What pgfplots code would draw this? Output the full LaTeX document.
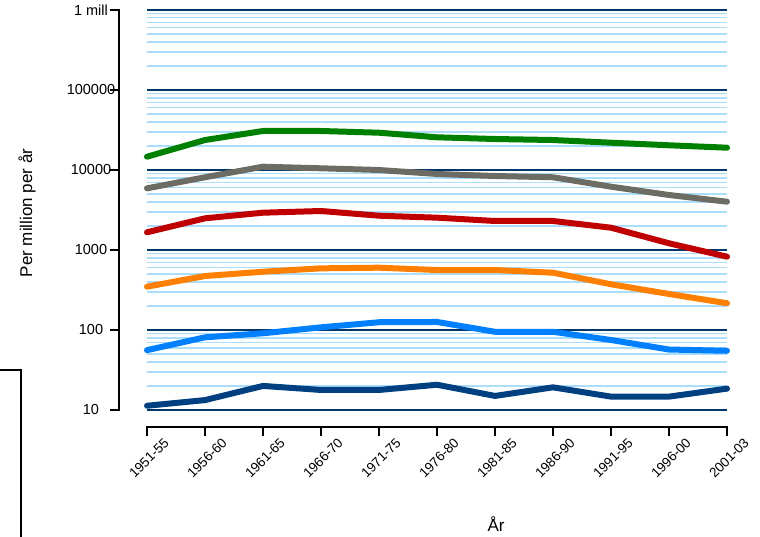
\documentclass[border=0pt]{standalone}
\usepackage{pgfplots}
\pgfplotsset{compat=1.18}
\usepackage{fontspec}
\setmainfont{Liberation Sans}
\definecolor{cgreen}{RGB}{0,128,0}
\definecolor{cgray}{RGB}{108,108,100}
\definecolor{cred}{RGB}{192,0,0}
\definecolor{corange}{RGB}{255,128,0}
\definecolor{clblue}{RGB}{0,128,255}
\definecolor{cdblue}{RGB}{0,64,128}
\definecolor{gridmaj}{RGB}{0,56,110}
\definecolor{gridmin}{RGB}{170,222,250}
\begin{document}
\begin{tikzpicture}
\begin{axis}[
  scale only axis, width=580pt, height=400pt,
  ymode=log, ymin=10, ymax=1000000, xmin=0, xmax=10,
  xtick={0,1,2,3,4,5,6,7,8,9,10},
  xticklabels={1951-55,1956-60,1961-65,1966-70,1971-75,1976-80,1981-85,1986-90,1991-95,1996-00,2001-03},
  ytick={10,100,1000,10000,100000,1000000},
  yticklabels={10,100,1000,10000,100000,1 mill},
  minor ytick={20,30,40,50,60,70,80,90,200,300,400,500,600,700,800,900,2000,3000,4000,5000,6000,7000,8000,9000,20000,30000,40000,50000,60000,70000,80000,90000,200000,300000,400000,500000,600000,700000,800000,900000},
  ymajorgrids, yminorgrids,
  major grid style={gridmaj, line width=2.5pt},
  minor grid style={gridmin, line width=1.5pt},
  axis line style={draw=none},
  major tick length=0pt, minor tick length=0pt,
  clip=false,
  /pgf/number format/assume math mode=true,
  yticklabel style={font=\fontsize{14.5}{16}\selectfont, anchor=center, xshift=-56pt},
  xticklabel style={font=\fontsize{13.5}{15}\selectfont, xshift=22pt, yshift=-28pt, rotate=45, anchor=east},
  every axis plot/.append style={line width=6pt, line cap=round, line join=round},
]
\addplot[cdblue] coordinates {(0,11.3) (1,13.3) (2,20) (3,17.8) (4,17.8) (5,20.7) (6,15) (7,19.2) (8,14.7) (9,14.7) (10,18.5)};
\addplot[clblue] coordinates {(0,56) (1,81) (2,91) (3,108) (4,125) (5,126) (6,95) (7,95) (8,75) (9,57) (10,55)};
\addplot[corange] coordinates {(0,348) (1,473) (2,535) (3,590) (4,601) (5,562) (6,562) (7,520) (8,373) (9,282) (10,216)};
\addplot[cred] coordinates {(0,1664) (1,2490) (2,2926) (3,3073) (4,2683) (5,2535) (6,2305) (7,2305) (8,1900) (9,1213) (10,825)};
\addplot[cgray] coordinates {(0,5900) (1,8110) (2,11000) (3,10500) (4,10000) (5,8913) (6,8414) (7,8110) (8,6185) (9,4870) (10,4016)};
\addplot[cgreen] coordinates {(0,14660) (1,23700) (2,30730) (3,30730) (4,29250) (5,25630) (6,24400) (7,23700) (8,21940) (9,20370) (10,19000)};
\coordinate (sw) at (rel axis cs:0,0);
\draw[line width=2.5pt, line cap=rect] ([xshift=-28pt]rel axis cs:0,0) -- ([xshift=-28pt]rel axis cs:0,1);
\pgfplotsinvokeforeach{10,100,1000,10000,100000,1000000}{\draw[line width=1.5pt] ([xshift=-28pt]axis cs:0,#1) -- ++(-9pt,0pt);}
\draw[line width=2.5pt, line cap=rect] ([yshift=-17pt]rel axis cs:0,0) -- ([yshift=-17pt]rel axis cs:1,0);
\pgfplotsinvokeforeach{0,1,2,3,4,5,6,7,8,9,10}{\draw[line width=2pt] ([yshift=-17pt]axis cs:#1,10) -- ++(0pt,-9pt);}
\node[rotate=90, font=\fontsize{17}{20}\selectfont] at ([xshift=-120pt, yshift=-3pt]rel axis cs:0,0.5) {Per million per år};
\node[anchor=base, font=\fontsize{17}{20}\selectfont] at ([xshift=349pt, yshift=-121pt]rel axis cs:0,0) {År};
\draw[line width=1.5pt] ([shift={(-150pt,40pt)}]rel axis cs:0,0) -- ++(24pt,0pt) -- ++(0pt,-170pt);
\end{axis}
\pgfresetboundingbox
\path[use as bounding box] ([shift={(-147pt,-126pt)}]sw) rectangle ([shift={(613pt,410pt)}]sw);
\end{tikzpicture}
\end{document}
